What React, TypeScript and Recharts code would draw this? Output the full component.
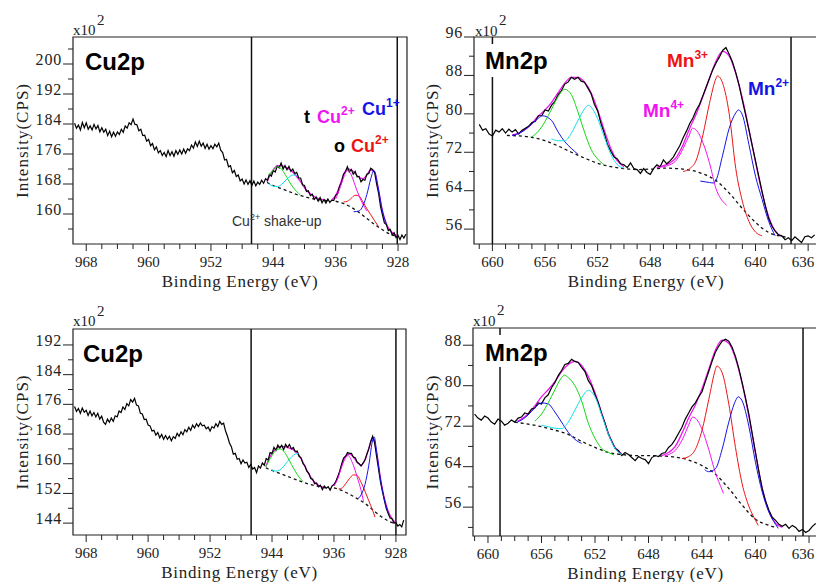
import React from 'react'
import { ComposedChart, Line, XAxis, YAxis, ReferenceLine, ReferenceArea } from 'recharts'

type Pair = [number, number]

// ---------- Cu2p (top) ----------
const cuTopStart = 969.5
const cuTopSpectrum = [
  184.2, 182.9, 183.7, 182.4, 184.4, 183.0, 184.3, 182.6,
  183.5, 182.4, 183.9, 182.7, 183.6, 181.9, 183.0, 181.8,
  182.6, 180.9, 182.1, 180.6, 181.8, 180.7, 181.9, 181.2,
  182.6, 181.8, 183.5, 182.9, 184.3, 183.8, 185.3, 183.9,
  183.8, 182.2, 182.6, 180.9, 181.0, 179.4, 179.9, 178.2,
  178.8, 177.1, 177.9, 176.3, 176.9, 175.6, 176.4, 175.3,
  176.9, 175.6, 176.6, 175.4, 176.9, 175.9, 177.1, 176.0,
  177.3, 176.2, 177.4, 176.9, 178.4, 177.6, 179.2, 178.0,
  179.4, 178.1, 178.9, 177.5, 178.6, 177.3, 178.2, 177.4,
  178.6, 177.9, 178.9, 177.0, 176.4, 174.4, 174.6, 172.6,
  172.9, 171.0, 171.6, 170.0, 170.4, 168.8, 169.3, 168.0,
  169.1, 167.9, 168.9, 167.6, 168.8, 167.5, 168.5, 167.9,
  169.0, 168.2, 169.4, 169.0, 170.6, 170.1, 171.6, 171.2,
  172.8, 172.3, 173.6, 172.0, 172.9, 171.8, 172.7, 171.4,
  172.0, 170.8, 171.1, 169.6, 169.6, 167.8, 167.6, 166.0,
  166.2, 164.9, 165.3, 163.9, 164.5, 163.4, 164.4, 163.0,
  163.9, 162.9, 164.0, 163.1, 163.7, 163.6, 165.0, 165.4,
  167.4, 168.4, 170.6, 171.2, 172.6, 171.2, 171.9, 170.6,
  171.4, 169.9, 170.0, 168.6, 169.2, 169.0, 170.6, 170.8,
  172.2, 171.8, 171.0, 168.0, 165.6, 162.0, 159.8, 157.6,
  157.2, 155.6, 155.9, 154.4, 155.0, 153.7, 154.3, 153.2,
  154.4, 153.6, 154.6,
]
const cuTopBgShake: Pair[] = [[944.8, 168.4], [944, 167.6], [943, 166.8], [942, 166.0], [941, 165.2], [940, 164.6], [939, 164.1], [938, 163.8], [937, 163.5]]
const cuTopBgMain: Pair[] = [[936, 163.4], [935, 162.8], [934, 161.8], [933, 160.4], [932, 158.8], [931, 157.2], [930, 155.8], [929, 154.6], [928, 154.0]]
const cuTopEnvShake: Pair[] = [[944.8, 168.5], [944.5, 170.0], [944, 171.8], [943.5, 172.8], [943, 172.9], [942.5, 172.6], [942, 172.0], [941.5, 171.2], [941, 170.0], [940.5, 168.6], [940, 167.0], [939.5, 165.8], [939, 165.0], [938.5, 164.4], [938, 164.0], [937.5, 163.7], [937, 163.5]]
const cuTopEnvMain: Pair[] = [[936.5, 163.8], [936, 165.0], [935.5, 167.4], [935, 170.4], [934.5, 172.0], [934, 171.8], [933.5, 170.8], [933, 169.8], [932.5, 169.4], [932, 170.4], [931.5, 171.8], [931, 171.2], [930.5, 166.4], [930, 160.8], [929.5, 157.4], [929, 155.6], [928.5, 154.6], [928, 154.0]]
const cuTopGreen: Pair[] = [[944.5, 170.4], [944, 171.8], [943.5, 172.6], [943, 172.1], [942.5, 170.6], [942, 168.8], [941.5, 167.2], [941, 166.0], [940.5, 165.0]]
const cuTopCyan: Pair[] = [[944.6, 168.2], [944, 167.4], [943.5, 167.3], [943, 167.8], [942.5, 168.8], [942, 169.8], [941.5, 170.4], [941, 170.2]]
const cuTopTet: Pair[] = [[936, 164.0], [935.5, 166.6], [935, 169.6], [934.5, 171.6], [934, 170.4], [933.5, 167.6], [933, 164.8], [932.5, 162.6], [932, 160.8]]
const cuTopOct: Pair[] = [[935, 163.2], [934.5, 163.4], [934, 164.2], [933.5, 165.0], [933, 164.8], [932.5, 163.2], [932, 161.4], [931.5, 159.8], [931, 158.2], [930.5, 156.6]]
const cuTopCu1: Pair[] = [[933.7, 160.6], [933, 160.8], [932.5, 162.2], [932, 165.2], [931.5, 169.4], [931.1, 171.6], [930.5, 166.4], [930, 160.8], [929.5, 157.4]]

// ---------- Mn2p (top) ----------
const mnTopStart = 661.0
const mnTopSpectrum = [
  77.8, 76.6, 76.9, 75.8, 75.4, 76.6, 76.2, 76.9,
  76.0, 76.8, 76.2, 76.7, 75.8, 76.6, 77.0, 77.4,
  78.2, 78.4, 79.6, 79.6, 80.8, 80.6, 81.8, 82.6,
  84.0, 84.8, 86.2, 86.6, 87.6, 87.2, 87.6, 86.8,
  86.6, 85.4, 84.2, 82.0, 80.6, 78.0, 76.0, 73.6,
  72.2, 71.0, 70.6, 69.6, 69.4, 68.8, 69.8, 68.6,
  68.4, 67.6, 68.6, 67.8, 67.4, 68.6, 69.4, 69.0,
  70.4, 69.6, 70.2, 71.0, 72.2, 73.4, 75.0, 76.4,
  78.0, 79.2, 80.8, 82.0, 83.8, 85.6, 87.4, 89.2,
  90.6, 91.8, 93.2, 93.8, 92.4, 90.8, 88.6, 86.0,
  82.8, 79.8, 76.6, 73.4, 70.2, 67.0, 63.8, 60.8,
  58.2, 56.6, 55.6, 54.8, 54.6, 53.8, 54.2, 53.6,
  54.4, 53.8, 53.2, 54.4, 54.6, 54.2, 54.8,
]
const mnTopBg: Pair[] = [[658.9, 75.5], [658, 75.4], [657, 75.1], [656, 74.4], [655, 73.3], [654, 72.0], [653, 70.8], [652, 69.7], [651, 69.0], [650, 68.6], [649, 68.4], [648, 68.5], [647, 68.7], [646, 68.6], [645, 68.3], [644, 67.5], [643, 66.1], [642, 63.5], [641, 60.3], [640, 57.4], [639, 55.3], [638, 54.5], [637.6, 54.3]]
const mnTopEnvL: Pair[] = [[658.5, 75.6], [658, 76.0], [657.5, 76.8], [657, 78.0], [656.5, 79.6], [656, 80.8], [655.5, 82.4], [655, 84.4], [654.5, 86.4], [654, 87.6], [653.5, 87.6], [653, 86.6], [652.5, 84.4], [652, 80.8], [651.5, 76.6], [651, 72.8], [650.5, 70.2], [650, 69.0]]
const mnTopEnvR: Pair[] = [[647.5, 68.9], [647, 69.2], [646.5, 69.8], [646, 71.0], [645.5, 73.6], [645, 77.0], [644.5, 80.0], [644, 83.6], [643.5, 87.4], [643, 91.0], [642.5, 93.0], [642, 92.0], [641.5, 88.4], [641, 83.2], [640.5, 76.8], [640, 70.0], [639.5, 63.6], [639, 58.6], [638.5, 55.6], [638, 54.5]]
const mnTopBlueL: Pair[] = [[658.5, 75.5], [658, 75.9], [657.5, 76.7], [657, 77.9], [656.5, 79.1], [656.2, 79.6], [655.5, 78.6], [655, 76.2], [654.5, 74.2], [654, 72.8], [653.5, 71.6]]
const mnTopGreen: Pair[] = [[657, 75.2], [656.5, 76.4], [656, 78.4], [655.5, 81.0], [655, 83.6], [654.5, 85.1], [654, 84.0], [653.5, 80.4], [653, 76.2], [652.5, 72.6], [652, 70.6], [651.5, 69.4]]
const mnTopCyan: Pair[] = [[655.5, 74.8], [655, 74.4], [654.5, 74.4], [654, 76.0], [653.5, 78.6], [653, 81.0], [652.7, 81.8], [652.5, 81.4], [652, 79.0], [651.5, 75.2], [651, 71.6], [650.5, 69.4], [650, 68.7]]
const mnTopMn4: Pair[] = [[647.5, 68.8], [647, 69.0], [646.5, 69.4], [646, 70.4], [645.5, 72.8], [645, 75.8], [644.8, 77.0], [644.5, 76.6], [644, 74.0], [643.5, 69.8], [643, 64.4], [642.5, 61.8], [642.2, 61.0]]
const mnTopMn3: Pair[] = [[645.5, 68.0], [645, 68.6], [644.5, 70.4], [644, 75.6], [643.5, 82.2], [643, 87.4], [642.9, 87.9], [642.5, 86.4], [642, 80.0], [641.5, 68.6], [641, 61.8], [640.5, 57.6], [640, 55.4], [639.5, 54.6]]
const mnTopMn2: Pair[] = [[644.2, 66.0], [643.5, 65.7], [643.2, 65.6], [643, 66.2], [642.5, 71.4], [642, 77.0], [641.5, 80.2], [641.3, 80.8], [641, 79.8], [640.5, 73.6], [640, 67.0], [639.5, 62.2], [639, 57.6], [638.5, 54.6]]

// ---------- Cu2p (bottom) ----------
const cuBotStart = 969.5
const cuBotSpectrum = [
  175.4, 174.1, 174.9, 173.6, 175.0, 173.9, 174.4, 173.0,
  174.2, 172.9, 173.8, 172.6, 173.6, 172.0, 172.8, 171.2,
  170.6, 172.0, 171.2, 172.3, 171.4, 172.9, 172.6, 174.2,
  173.8, 175.3, 174.6, 176.2, 175.6, 177.3, 176.6, 177.6,
  175.8, 175.6, 173.6, 173.4, 171.9, 172.0, 170.4, 170.2,
  168.8, 169.0, 167.7, 168.4, 167.0, 167.9, 166.6, 167.6,
  166.6, 167.4, 166.2, 167.3, 166.8, 168.2, 167.4, 168.6,
  167.8, 169.2, 168.6, 169.8, 169.0, 170.4, 169.6, 170.8,
  170.0, 171.0, 170.2, 170.4, 169.4, 169.9, 168.8, 170.0,
  169.6, 170.8, 170.0, 171.4, 170.6, 170.9, 168.8, 167.4,
  165.6, 164.6, 162.6, 162.8, 161.2, 161.4, 160.0, 161.0,
  160.2, 160.4, 159.0, 159.8, 158.6, 159.0, 157.6, 159.4,
  158.8, 160.2, 159.6, 161.4, 161.0, 163.0, 162.8, 164.4,
  163.6, 165.0, 164.2, 165.0, 163.8, 165.2, 164.4, 165.2,
  164.0, 164.4, 163.2, 163.4, 162.0, 161.6, 160.0, 159.4,
  158.0, 157.4, 156.0, 155.8, 154.6, 154.8, 153.8, 154.2,
  153.0, 154.0, 153.4, 153.8, 152.9, 154.0, 154.4, 155.2,
  156.6, 158.0, 160.0, 161.6, 162.0, 163.0, 162.8, 162.8,
  161.8, 161.6, 160.4, 160.0, 159.4, 160.2, 161.0, 162.6,
  164.0, 166.0, 167.4, 165.6, 162.0, 158.6, 155.2, 152.6,
  150.2, 148.0, 146.6, 145.4, 145.2, 144.0, 144.2, 143.2,
  143.6, 143.0, 144.8,
]
const cuBotBgShake: Pair[] = [[944.8, 158.9], [944, 158.2], [943, 157.4], [942, 156.6], [941, 155.8], [940, 155.0], [939, 154.4], [938, 153.9], [937, 153.5]]
const cuBotBgMain: Pair[] = [[936, 153.5], [935, 152.8], [934, 151.8], [933, 150.6], [932, 149.3], [931, 147.6], [930, 145.9], [929, 144.6], [928, 143.8]]
const cuBotEnvShake: Pair[] = [[944.8, 159.2], [944.5, 160.8], [944, 162.8], [943.5, 164.0], [943, 164.6], [942.5, 164.6], [942, 164.4], [941.5, 164.0], [941, 163.4], [940.5, 162.2], [940, 160.4], [939.5, 158.2], [939, 156.4], [938.5, 155.0], [938, 154.2], [937.5, 153.7], [937, 153.5]]
const cuBotEnvMain: Pair[] = [[936, 154.2], [935.5, 156.4], [935, 159.6], [934.5, 162.0], [934, 162.6], [933.5, 161.8], [933, 160.4], [932.5, 159.6], [932, 161.0], [931.5, 164.2], [931, 167.0], [930.5, 163.2], [930, 156.2], [929.5, 150.8], [929, 147.2], [928.5, 145.2], [928, 144.0]]
const cuBotGreen: Pair[] = [[944.8, 159.2], [944.5, 160.4], [944, 162.2], [943.5, 163.6], [943, 164.0], [942.5, 163.4], [942, 161.8], [941.5, 159.8], [941, 158.0], [940.5, 156.4], [940, 155.2]]
const cuBotCyan: Pair[] = [[944, 158.3], [943.5, 158.0], [943, 158.3], [942.5, 159.3], [942, 160.6], [941.5, 161.8], [941, 162.6], [940.6, 162.8]]
const cuBotTet: Pair[] = [[936, 154.0], [935.5, 156.0], [935, 159.2], [934.5, 161.6], [934.2, 162.2], [933.5, 159.6], [933, 156.4], [932.5, 152.8], [932.2, 150.0]]
const cuBotOct: Pair[] = [[935.4, 153.2], [935, 153.4], [934.5, 154.6], [934, 156.0], [933.5, 157.0], [933, 156.8], [932.5, 155.0], [932, 152.6], [931.5, 150.0], [931, 147.4], [930.7, 145.6]]
const cuBotCu1: Pair[] = [[932.9, 150.6], [932.5, 151.6], [932, 154.4], [931.5, 159.6], [931, 166.4], [930.8, 167.2], [930.5, 163.4], [930, 155.8], [929.5, 150.4], [929, 146.8]]

// ---------- Mn2p (bottom) ----------
const mnBotStart = 661.0
const mnBotSpectrum = [
  74.4, 73.6, 73.2, 74.0, 73.6, 72.8, 72.4, 73.4,
  73.0, 72.2, 72.6, 73.2, 72.8, 73.6, 73.8, 74.6,
  74.4, 75.4, 75.6, 76.6, 76.4, 77.6, 78.2, 79.6,
  80.6, 82.0, 83.0, 84.2, 84.4, 85.2, 84.8, 84.6,
  83.6, 82.8, 81.0, 80.0, 78.2, 76.6, 74.4, 72.6,
  70.4, 69.0, 67.6, 67.2, 66.2, 66.8, 66.4, 65.8,
  65.2, 66.0, 65.6, 65.4, 64.6, 65.8, 66.2, 66.0,
  66.6, 66.8, 67.8, 68.4, 69.4, 70.6, 71.8, 73.4,
  74.6, 75.8, 76.6, 77.8, 78.8, 80.8, 82.8, 84.8,
  86.6, 87.8, 88.8, 89.2, 88.8, 87.6, 85.8, 83.4,
  80.6, 77.6, 74.4, 70.6, 66.8, 63.0, 59.6, 57.2,
  55.4, 54.0, 53.4, 52.6, 52.2, 52.6, 51.8, 52.4,
  52.0, 51.2, 51.6, 51.0, 51.4, 52.2, 52.8,
]
const mnBotBg: Pair[] = [[658, 72.8], [657, 72.4], [656, 71.9], [655, 71.2], [654, 70.4], [653, 69.0], [652, 67.8], [651, 66.8], [650, 66.4], [649, 66.2], [648, 66.2], [647, 66.1], [646, 65.9], [645, 65.3], [644, 64.2], [643, 62.5], [642, 59.7], [641, 56.4], [640, 53.6], [639, 52.4], [638.5, 52.0]]
const mnBotEnvL: Pair[] = [[657.8, 73.0], [657.5, 73.4], [657, 74.4], [656.5, 76.0], [656, 77.8], [655.5, 79.2], [655, 80.8], [654.5, 82.8], [654, 84.2], [653.5, 84.8], [653, 84.0], [652.5, 81.8], [652, 78.6], [651.5, 74.6], [651, 70.6], [650.5, 67.8], [650, 66.5]]
const mnBotEnvR: Pair[] = [[647, 66.2], [646.5, 66.8], [646, 68.0], [645.5, 70.6], [645, 73.6], [644.5, 76.2], [644, 79.4], [643.5, 83.2], [643, 87.0], [642.5, 89.0], [642, 88.4], [641.5, 85.4], [641, 80.4], [640.5, 74.0], [640, 66.6], [639.5, 59.8], [639, 55.2], [638.5, 52.8], [638, 52.0]]
const mnBotBlueL: Pair[] = [[657.8, 72.8], [657.5, 73.2], [657, 74.2], [656.5, 75.6], [656, 76.6], [655.5, 76.4], [655, 74.8], [654.5, 72.8], [654, 70.8], [653.5, 69.4], [653, 68.6]]
const mnBotGreen: Pair[] = [[656.5, 73.0], [656, 74.4], [655.5, 76.6], [655, 79.2], [654.5, 81.6], [654.3, 82.1], [654, 81.6], [653.5, 80.0], [653, 77.0], [652.5, 72.6], [652, 69.6], [651.5, 67.6], [651, 66.8], [650.6, 66.3]]
const mnBotCyan: Pair[] = [[656, 72.2], [655.5, 71.9], [655, 71.6], [654.5, 71.5], [654, 72.8], [653.5, 75.2], [653, 77.6], [652.5, 79.1], [652, 77.8], [651.5, 74.2], [651, 70.4], [650.5, 67.6], [650, 66.4]]
const mnBotMn4: Pair[] = [[646.8, 66.1], [646.5, 66.4], [646, 67.2], [645.5, 69.2], [645, 72.2], [644.7, 73.8], [644.5, 73.6], [644, 71.4], [643.5, 67.4], [643, 62.8], [642.5, 59.4], [642.4, 58.7]]
const mnBotMn3: Pair[] = [[645.5, 65.6], [645, 66.0], [644.5, 67.4], [644, 71.2], [643.5, 77.2], [643, 83.2], [642.9, 83.9], [642.5, 82.6], [642, 76.4], [641.5, 67.8], [641, 60.6], [640.5, 56.2], [640, 53.4], [639.8, 52.4]]
const mnBotMn2: Pair[] = [[643.8, 63.4], [643.5, 63.0], [643, 63.6], [642.5, 67.4], [642, 72.8], [641.5, 77.0], [641.3, 77.8], [641, 77.0], [640.5, 72.0], [640, 64.8], [639.5, 59.0], [639, 55.0], [638.5, 52.6], [638.3, 51.8]]

// ---------- ticks ----------
const cuXMajor = [968, 960, 952, 944, 936, 928]
const cuXMinor = [966, 964, 962, 958, 956, 954, 950, 948, 946, 942, 940, 938, 934, 932, 930]
const mnXMajor = [660, 656, 652, 648, 644, 640, 636]
const mnXMinor = [661, 659, 658, 657, 655, 654, 653, 651, 650, 649, 647, 646, 645, 643, 642, 641, 639, 638, 637]
const cuTopYMajor = [160, 168, 176, 184, 192, 200]
const cuTopYMinor = [156, 164, 172, 180, 188, 196, 204]
const cuBotYMajor = [144, 152, 160, 168, 176, 184, 192]
const cuBotYMinor = [148, 156, 164, 172, 180, 188]
const mnTopYMajor = [56, 64, 72, 80, 88, 96]
const mnTopYMinor = [60, 68, 76, 84, 92]
const mnBotYMajor = [56, 64, 72, 80, 88]
const mnBotYMinor = [52, 60, 68, 76, 84]

const GREEN = '#14d814'
const CYAN = '#10e0ee'
const BLUE = '#1414e6'
const RED = '#ee1414'
const MAGENTA = '#f014f0'
const INK = '#222'
const SERIF = 'Liberation Serif, Times New Roman, serif'
const SANS = 'Liberation Sans, Arial, sans-serif'

// spectra are recorded on a fixed 0.25 eV grid
const fromGrid = (start: number, values: number[]): Pair[] => values.map((v, i) => [start - i * 0.25, v])

interface Curve { pts: Pair[]; color: string; width?: number; dash?: string; type?: 'linear' | 'monotone' }

interface PanelProps {
  left: number; top: number; width: number; height: number
  margin: { top: number; right: number; bottom: number; left: number }
  yWidth: number
  maxX: number
  xDomain: [number, number]; yDomain: [number, number]
  xMajor: number[]; xMinor: number[]; yMajor: number[]; yMinor: number[]
  vLines: number[]
  under: Curve[]; spectrum: Pair[]; over: Curve[]
}

const XTick = (props: any) => {
  const { x, y, payload, majors, maxX } = props
  const major = majors.includes(payload.value)
  const tx = Math.min(x, maxX - 11)
  return (
    <g>
      <line x1={x} x2={x} y1={y} y2={y + (major ? 7 : 5)} stroke={INK} strokeWidth={1} />
      {major && (
        <text x={tx} y={y + 23} textAnchor="middle" fontSize={15} fontFamily={SERIF} fill={INK}>{payload.value}</text>
      )}
    </g>
  )
}

const YTick = (props: any) => {
  const { x, y, payload, majors } = props
  const major = majors.includes(payload.value)
  return (
    <g>
      <line x1={x - (major ? 10 : 5)} x2={x} y1={y} y2={y} stroke={INK} strokeWidth={1} />
      {major && (
        <text x={x - 11} y={y + 1} textAnchor="end" fontSize={16} letterSpacing={0.8} fontFamily={SERIF} fill={INK}>{payload.value}</text>
      )}
    </g>
  )
}

const toData = (pts: Pair[]) => pts.map(([e, v]) => ({ e, v }))

function curveLine(c: Curve, key: string) {
  return (
    <Line
      key={key}
      data={toData(c.pts)}
      dataKey="v"
      type={c.type || 'monotone'}
      stroke={c.color}
      strokeWidth={c.width || 1}
      strokeDasharray={c.dash}
      dot={false}
      activeDot={false}
      isAnimationActive={false}
    />
  )
}

function Panel(p: PanelProps) {
  return (
    <div style={{ position: 'absolute', left: p.left, top: p.top }}>
      <ComposedChart width={p.width} height={p.height} margin={p.margin}>
        <XAxis
          type="number"
          dataKey="e"
          domain={p.xDomain}
          reversed
          allowDataOverflow
          ticks={[...p.xMajor, ...p.xMinor]}
          interval={0}
          tickSize={0}
          tickMargin={0}
          tickLine={false}
          axisLine={false}
          height={48}
          tick={(t: any) => <XTick {...t} majors={p.xMajor} maxX={p.maxX} />}
          label={{ value: 'Binding Energy (eV)', position: 'insideBottom', offset: 5, style: { fontFamily: SERIF, fontSize: 17, letterSpacing: 0.7, fill: INK } }}
        />
        <YAxis
          type="number"
          dataKey="v"
          domain={p.yDomain}
          allowDataOverflow
          ticks={[...p.yMajor, ...p.yMinor]}
          interval={0}
          tickSize={0}
          tickMargin={0}
          tickLine={false}
          axisLine={false}
          width={p.yWidth}
          tick={(t: any) => <YTick {...t} majors={p.yMajor} />}
          label={{ value: 'Intensity(CPS)', angle: -90, position: 'insideLeft', offset: 22, style: { textAnchor: 'middle', fontFamily: SERIF, fontSize: 17, letterSpacing: 1, fill: INK } }}
        />
        <ReferenceArea x1={p.xDomain[0]} x2={p.xDomain[1]} y1={p.yDomain[0]} y2={p.yDomain[1]} fill="none" fillOpacity={0} stroke={INK} strokeWidth={1.2} />
        {p.vLines.map((x) => (
          <ReferenceLine key={x} x={x} stroke="#111" strokeWidth={1.5} />
        ))}
        {p.under.map((c, i) => curveLine(c, 'u' + i))}
        <Line data={toData(p.spectrum)} dataKey="v" type="linear" stroke="#000" strokeWidth={1.2} dot={false} activeDot={false} isAnimationActive={false} />
        {p.over.map((c, i) => curveLine(c, 'o' + i))}
      </ComposedChart>
    </div>
  )
}

const dashed = (pts: Pair[]): Curve => ({ pts, color: '#111', width: 1.3, dash: '3 3' })
const env = (pts: Pair[]): Curve => ({ pts, color: MAGENTA, width: 1.3 })

export default function App() {
  return (
    <div style={{ position: 'absolute', left: 0, top: 0, width: 816, height: 582, overflow: 'hidden', background: '#fff' }}>
      <Panel
        left={0} top={0} width={410} height={292}
        margin={{ top: 37, right: 3, bottom: 0, left: 0 }} yWidth={73} maxX={420}
        xDomain={[926.85, 969.7]} yDomain={[152, 207.2]}
        xMajor={cuXMajor} xMinor={cuXMinor} yMajor={cuTopYMajor} yMinor={cuTopYMinor}
        vLines={[946.8, 928.1]}
        under={[env(cuTopEnvShake), env(cuTopEnvMain)]}
        spectrum={fromGrid(cuTopStart, cuTopSpectrum)}
        over={[
          dashed(cuTopBgShake), dashed(cuTopBgMain),
          { pts: cuTopCyan, color: CYAN }, { pts: cuTopGreen, color: GREEN },
          { pts: cuTopOct, color: RED }, { pts: cuTopTet, color: MAGENTA }, { pts: cuTopCu1, color: BLUE },
        ]}
      />
      <Panel
        left={410} top={0} width={408} height={292}
        margin={{ top: 37, right: 0, bottom: 0, left: 0 }} yWidth={64} maxX={404}
        xDomain={[635.25, 661.4]} yDomain={[52.9, 96]}
        xMajor={mnXMajor} xMinor={mnXMinor} yMajor={mnTopYMajor} yMinor={mnTopYMinor}
        vLines={[660, 637.3]}
        under={[env(mnTopEnvL), env(mnTopEnvR)]}
        spectrum={fromGrid(mnTopStart, mnTopSpectrum)}
        over={[
          dashed(mnTopBg),
          { pts: mnTopBlueL, color: BLUE }, { pts: mnTopGreen, color: GREEN }, { pts: mnTopCyan, color: CYAN },
          { pts: mnTopMn4, color: MAGENTA }, { pts: mnTopMn3, color: RED }, { pts: mnTopMn2, color: BLUE },
        ]}
      />
      <Panel
        left={0} top={290} width={410} height={293}
        margin={{ top: 39, right: 4, bottom: 0, left: 0 }} yWidth={73} maxX={420}
        xDomain={[926.7, 969.7]} yDomain={[140.8, 196.3]}
        xMajor={cuXMajor} xMinor={cuXMinor} yMajor={cuBotYMajor} yMinor={cuBotYMinor}
        vLines={[946.7, 928]}
        under={[env(cuBotEnvShake), env(cuBotEnvMain)]}
        spectrum={fromGrid(cuBotStart, cuBotSpectrum)}
        over={[
          dashed(cuBotBgShake), dashed(cuBotBgMain),
          { pts: cuBotCyan, color: CYAN }, { pts: cuBotGreen, color: GREEN },
          { pts: cuBotOct, color: RED }, { pts: cuBotTet, color: MAGENTA }, { pts: cuBotCu1, color: BLUE },
        ]}
      />
      <Panel
        left={410} top={290} width={408} height={294}
        margin={{ top: 38, right: 0, bottom: 0, left: 0 }} yWidth={63} maxX={404}
        xDomain={[635.33, 661.12]} yDomain={[50.3, 91.4]}
        xMajor={mnXMajor} xMinor={mnXMinor} yMajor={mnBotYMajor} yMinor={mnBotYMinor}
        vLines={[659.1, 636.45]}
        under={[env(mnBotEnvL), env(mnBotEnvR)]}
        spectrum={fromGrid(mnBotStart, mnBotSpectrum)}
        over={[
          dashed(mnBotBg),
          { pts: mnBotBlueL, color: BLUE }, { pts: mnBotGreen, color: GREEN }, { pts: mnBotCyan, color: CYAN },
          { pts: mnBotMn4, color: MAGENTA }, { pts: mnBotMn3, color: RED }, { pts: mnBotMn2, color: BLUE },
        ]}
      />

      <svg width={816} height={582} style={{ position: 'absolute', left: 0, top: 0, pointerEvents: 'none' }}>
        {/* multiplier labels */}
        <g fontFamily={SERIF} fontSize={15} fill={INK}>
          <text x={73} y={35}>x10</text><text x={97} y={25}>2</text>
          <text x={475} y={36}>x10</text><text x={499} y={25}>2</text>
          <text x={73} y={326}>x10</text><text x={97} y={316}>2</text>
          <text x={473} y={326}>x10</text><text x={497} y={315}>2</text>
        </g>
        {/* panel titles */}
        <rect x={483} y={44} width={70} height={33} fill="#fff" />
        <rect x={483} y={335} width={70} height={32} fill="#fff" />
        <g fontFamily={SANS} fontSize={24} fontWeight="bold" fill="#000">
          <text x={85} y={70}>Cu2p</text>
          <text x={485} y={69}>Mn2p</text>
          <text x={83} y={362}>Cu2p</text>
          <text x={485} y={361}>Mn2p</text>
        </g>
        {/* Cu species */}
        <g fontFamily={SANS} fontSize={18} fontWeight="bold">
          <text x={304} y={123} fill="#000">t</text>
          <text x={317} y={123} fill={MAGENTA}>Cu<tspan fontSize={12} dy={-8}>2+</tspan></text>
          <text x={362} y={115} fill={BLUE}>Cu<tspan fontSize={12} dy={-8}>1+</tspan></text>
          <text x={334} y={152} fill="#000">o</text>
          <text x={351} y={152} fill={RED}>Cu<tspan fontSize={12} dy={-8}>2+</tspan></text>
        </g>
        <text x={232} y={226} fontFamily={SANS} fontSize={14} fill="#333">
          Cu<tspan fontSize={9} dy={-6}>2+</tspan><tspan dy={6}> shake-up</tspan>
        </text>
        {/* Mn species */}
        <g fontFamily={SANS} fontSize={19} fontWeight="bold">
          <text x={667} y={67} fill={RED}>Mn<tspan fontSize={12} dy={-8}>3+</tspan></text>
          <text x={643} y={117} fill={MAGENTA}>Mn<tspan fontSize={12} dy={-8}>4+</tspan></text>
          <text x={748} y={95} fill={BLUE}>Mn<tspan fontSize={12} dy={-8}>2+</tspan></text>
        </g>
      </svg>
    </div>
  )
}
